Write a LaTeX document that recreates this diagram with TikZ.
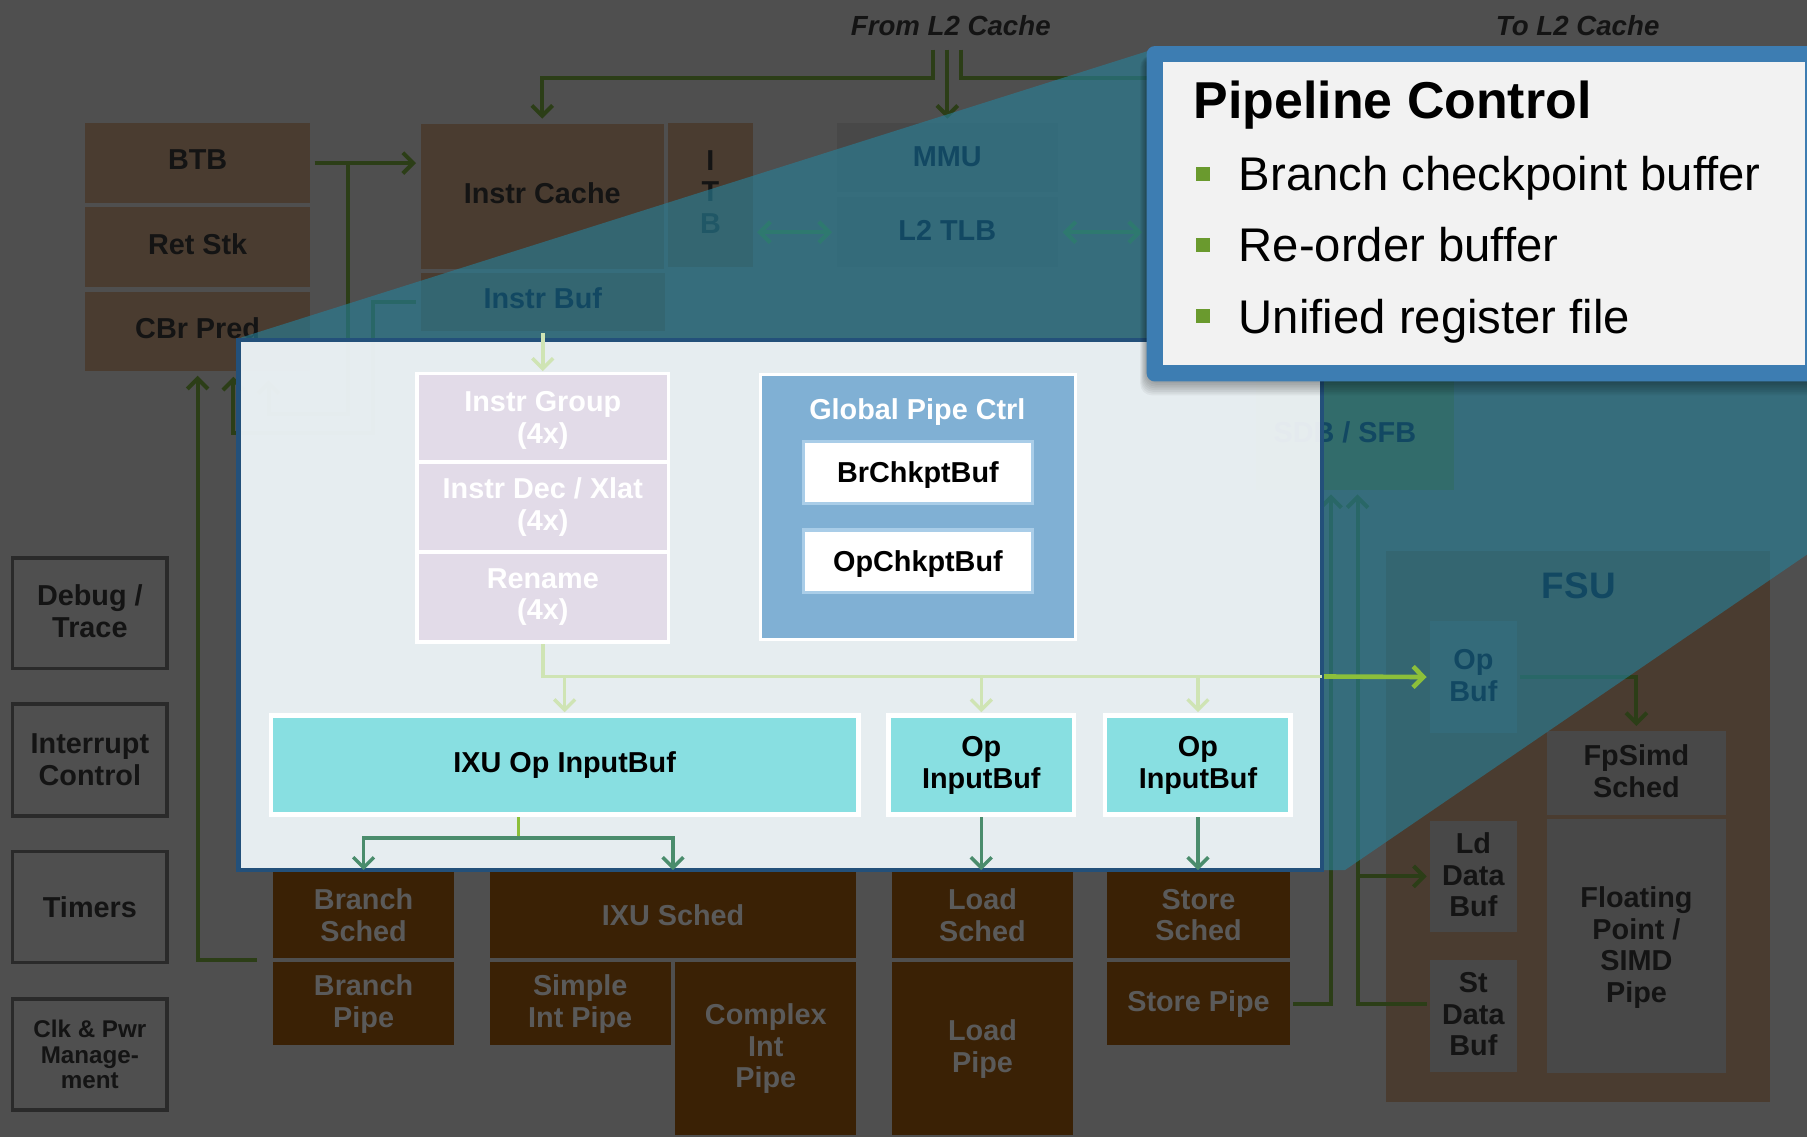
\documentclass[tikz,border=0pt]{standalone}
\usepackage{fontspec}
\setmainfont{Liberation Sans}
\usetikzlibrary{arrows.meta}
\definecolor{bgc}{HTML}{4F4F4F}
\definecolor{brownA}{HTML}{4A3C30}
\definecolor{brownB}{HTML}{3A2105}
\definecolor{dimtxt}{HTML}{5A5A5A}
\definecolor{grayB}{HTML}{484848}
\definecolor{sdbc}{HTML}{434A22}
\definecolor{dkg}{HTML}{2C3E17}
\definecolor{midg}{HTML}{3A6E2C}
\definecolor{dktxt}{HTML}{141414}
\definecolor{ovtxt}{HTML}{124862}
\definecolor{sideb}{HTML}{2A2A2A}
\definecolor{tealov}{HTML}{288199}
\definecolor{panelf}{HTML}{F6F8FA}
\definecolor{panelb}{HTML}{23507A}
\definecolor{lavc}{HTML}{E2DBE8}
\definecolor{cyanc}{HTML}{88DFE1}
\definecolor{gpcc}{HTML}{80B0D4}
\definecolor{chkb}{HTML}{A9CDE8}
\definecolor{ltg}{HTML}{CFE4B4}
\definecolor{brg}{HTML}{8CBF3A}
\definecolor{tealar}{HTML}{4A8C6C}
\definecolor{calb}{HTML}{3D7DB2}
\definecolor{calf}{HTML}{F2F2F2}
\definecolor{bulc}{HTML}{6A9A2E}
% box given by its corners: name, x1, y1, x2, y2, style, text
\newcommand{\boxat}[7]{\node[#6, minimum width={(#4-#2)*1pt}, minimum height={(#5-#3)*1pt}] (#1) at ({(#2+#4)/2},{(#3+#5)/2}) {#7};}
\begin{document}
\begin{tikzpicture}[x=1pt,y=-1pt,
  every node/.style={inner sep=0pt, outer sep=0pt},
  f25/.style={font=\fontsize{25}{27.5}\selectfont\bfseries, align=center},
  upbox/.style={fill=brownA, text=dktxt, f25, text depth=6pt},
  lowbox/.style={fill=brownB, text=dimtxt, f25},
  graybox/.style={fill=grayB, text=dktxt, f25, text depth=3pt},
  tinted/.style={text=ovtxt, f25},
  sidebox/.style={draw=sideb, line width=3pt, text=dktxt, f25},
  lavbox/.style={fill=lavc, draw=white, line width=3pt, text=white, f25},
  cyanbox/.style={fill=cyanc, draw=white, line width=4pt, text=black, f25},
  chkbox/.style={fill=white, draw=chkb, line width=3pt, text=black, f25, text depth=0pt},
  dkline/.style={draw=dkg, line width=3.5pt},
  midline/.style={draw=midg, line width=3.5pt},
  ltline/.style={draw=ltg, line width=3pt},
  brline/.style={draw=brg, line width=4pt},
  tlline/.style={draw=tealar, line width=3pt},
  tipend/.style={-{Straight Barb[length=9pt,width=18pt]}},
  tipboth/.style={{Straight Barb[length=9pt,width=18pt]}-{Straight Barb[length=9pt,width=18pt]}},
]
\useasboundingbox (0,0) rectangle (1568,987);
\fill[bgc] (0,0) rectangle (1568,987);

% ---- cache labels
\node[anchor=base, text=dktxt, font=\fontsize{24}{26}\selectfont\bfseries\itshape] (froml2) at (825,31) {From L2 Cache};
\node[anchor=base, text=dktxt, font=\fontsize{24}{26}\selectfont\bfseries\itshape] (tol2) at (1369,31) {To L2 Cache};

% ---- front end
\boxat{btb}{74}{107}{269}{176}{upbox}{BTB}
\boxat{retstk}{74}{180}{269}{249}{upbox}{Ret Stk}
\boxat{cbr}{74}{253}{269}{322}{upbox}{CBr Pred}
\boxat{icache}{365}{108}{576}{233}{upbox}{Instr Cache}
\boxat{itb}{580}{107}{653}{232}{upbox}{I\\T\\B}
\boxat{ibuf}{365}{237}{577}{287}{upbox}{}
\boxat{mmu}{726}{107}{918}{167}{graybox}{}
\boxat{l2tlb}{726}{171}{918}{232}{graybox}{}
\boxat{sdb}{1090}{325}{1262}{425}{fill=sdbc}{}

% ---- floating point / SIMD unit
\boxat{fsu}{1203}{478}{1536}{956}{upbox}{}
\boxat{opbuf}{1241}{539}{1316}{636}{graybox}{}
\boxat{fpsched}{1342}{634}{1498}{707}{graybox}{FpSimd\\Sched}
\boxat{fppipe}{1342}{711}{1498}{931}{graybox}{Floating\\Point /\\SIMD\\Pipe}
\boxat{lddb}{1241}{712}{1316}{809}{graybox}{Ld\\Data\\Buf}
\boxat{stdb}{1241}{833}{1316}{930}{graybox}{St\\Data\\Buf}

% ---- system blocks
\boxat{dbg}{11}{484}{145}{580}{sidebox, text depth=4pt}{Debug /\\Trace}
\boxat{intc}{11}{611}{145}{708}{sidebox}{Interrupt\\Control}
\boxat{tmr}{11}{739}{145}{835}{sidebox}{Timers}
\boxat{clk}{11}{867}{145}{963}{sidebox, font=\fontsize{21}{22}\selectfont\bfseries}{Clk \& Pwr\\Manage-\\ment}

% ---- schedulers and pipes
\boxat{bsched}{237}{757}{394}{831}{lowbox}{Branch\\Sched}
\boxat{bpipe}{237}{835}{394}{907}{lowbox}{Branch\\Pipe}
\boxat{ixsched}{425}{757}{743}{831}{lowbox}{IXU Sched}
\boxat{sipipe}{425}{835}{582}{907}{lowbox}{Simple\\Int Pipe}
\boxat{cipipe}{586}{835}{743}{985}{lowbox}{Complex\\Int\\Pipe}
\boxat{ldsched}{774}{757}{931}{831}{lowbox}{Load\\Sched}
\boxat{ldpipe}{774}{835}{931}{985}{lowbox}{Load\\Pipe}
\boxat{stsched}{961}{757}{1119}{831}{lowbox}{Store\\Sched}
\boxat{stpipe}{961}{835}{1119}{907}{lowbox}{Store Pipe}

% ---- back-layer connectors
\coordinate (l2top) at (0,43);
\coordinate (l2row) at (0,68);
\coordinate (l2a) at (810,43);
\coordinate (l2c) at (834,43);
\coordinate (l2right) at (996,68);
\draw[dkline, tipend, shorten >=5pt] (l2a) |- (icache.north |- l2row) -- (icache.north);
\draw[dkline, tipend, shorten >=4pt] (mmu.north |- l2top) -- (mmu.north);
\draw[dkline] (l2c) |- (l2right);

\coordinate (jb) at (302,141.5);
\draw[dkline, tipend, shorten <=4pt, shorten >=4pt] (btb.east) -- (btb.east -| icache.west);
\draw[dkline, tipend] (jb) -- (302,359) -| ([xshift=61.5pt, yshift=-8pt]cbr.south);
\draw[dkline, tipend, shorten <=4pt] (ibuf.west) -- (324,262) -- (324,376) -| ([xshift=31pt, yshift=-5pt]cbr.south);
\draw[dkline, tipend] ([xshift=-14pt, yshift=-2pt]bsched.south west) -| ([yshift=-4pt]cbr.south);

\coordinate (tlbR) at (991,201.5);
\draw[midline, tipboth, shorten <=4pt, shorten >=4pt] (itb.east |- l2tlb.west) -- (l2tlb.west);
\draw[midline, tipboth, shorten <=4pt] (l2tlb.east) -- (tlbR);

\coordinate (sv) at (1178,871);
\draw[dkline, tipend, shorten <=3pt] (stpipe.east) -| ([xshift=-21pt, yshift=-4pt]sdb.south);
\draw[dkline, tipend, shorten <=3pt] ([yshift=10.5pt]stdb.west) -| ([xshift=2pt, yshift=-4pt]sdb.south);
\draw[dkline, tipend, shorten >=3pt] (sv |- lddb.west) -- (lddb.west);
\draw[dkline, tipend, shorten <=3pt, shorten >=4pt] (opbuf.east) -| (fpsched.north);

% ---- highlight wedge joining the panel and the callout
\fill[tealov, opacity=0.62] (209,293) -- (997,44) -- (1580,44) -- (1580,473) -- (1167,755) -- (209,755) -- cycle;

% ---- labels of the blocks lying inside the wedge
\node[tinted, text depth=6pt] (ibuft) at (ibuf.center) {Instr Buf};
\node[tinted, text depth=3pt] (mmut) at (mmu.center) {MMU};
\node[tinted, text depth=3pt] (l2tlbt) at (l2tlb.center) {L2 TLB};
\node[tinted] (sdbt) at (1167,375) {SDB / SFB};
\node[tinted, font=\fontsize{32}{34}\selectfont\bfseries] (fsut) at (1370,508) {FSU};
\node[tinted, text depth=3pt] (opbuft) at (opbuf.center) {Op\\Buf};

% ---- pipeline control panel
\boxat{panel}{207}{295}{1147}{755}{draw=panelb, line width=4pt, fill=panelf, fill opacity=0.92}{}

\boxat{igrp}{362}{324}{580}{401}{lavbox, text depth=0pt}{Instr Group\\(4x)}
\boxat{idec}{362}{401}{580}{479}{lavbox}{Instr Dec / Xlat\\(4x)}
\boxat{ren}{362}{479}{580}{557}{lavbox}{Rename\\(4x)}

\boxat{gpc}{660}{325}{933}{555}{fill=gpcc, draw=white, line width=2.5pt}{}
\node[f25, text=white, text depth=0pt] (gpct) at (796,355) {Global Pipe Ctrl};
\boxat{brck}{697}{383}{896}{437}{chkbox}{BrChkptBuf}
\boxat{opck}{697}{460}{896}{514}{chkbox}{OpChkptBuf}

\boxat{ixbuf}{235}{621}{745}{707}{cyanbox}{IXU Op InputBuf}
\boxat{opbA}{771}{621}{932}{707}{cyanbox}{Op\\InputBuf}
\boxat{opbB}{959}{621}{1120}{707}{cyanbox}{Op\\InputBuf}

% ---- panel connectors
\coordinate (busrow) at (0,587);
\coordinate (ixrow) at (0,727);
\draw[ltline, tipend, shorten <=2pt, shorten >=2pt] (ibuf.south) -- (igrp.north);
\draw[ltline, shorten <=2pt] (ren.south) |- (panel.east |- busrow);
\draw[ltline, tipend, shorten >=3pt] (ixbuf.north |- busrow) -- (ixbuf.north);
\draw[ltline, tipend, shorten >=3pt] (opbA.north |- busrow) -- (opbA.north);
\draw[ltline, tipend, shorten >=3pt] (opbB.north |- busrow) -- (opbB.north);
\draw[brline, tipend, shorten <=2pt, shorten >=3pt] (panel.east |- busrow) -- (opbuf.west);

\draw[brline, line width=3pt, shorten <=2pt] ([xshift=-40pt]ixbuf.south) -- ([xshift=-40pt]ixbuf.south |- ixrow);
\draw[tlline, tipend, shorten >=2pt] ([xshift=-40pt]ixbuf.south |- ixrow) -| (bsched.north);
\draw[tlline, tipend, shorten >=2pt] ([xshift=-40pt]ixbuf.south |- ixrow) -| (ixsched.north);
\draw[tlline, tipend, shorten <=2pt, shorten >=2pt] (opbA.south) -- (opbA.south |- ldsched.north);
\draw[tlline, tipend, shorten <=2pt, shorten >=2pt] (opbB.south) -- (opbB.south |- stsched.north);

% ---- callout with soft shadow
\foreach \k in {1,...,8}
  \fill[black, opacity=0.045, rounded corners=10pt] (995-0.7*\k,48) rectangle (1580,331+1.5*\k);
\fill[calb, rounded corners=7pt] (995,40) rectangle (1590,331);
\boxat{callout}{1009}{54}{1566}{317}{fill=calf}{}
\node[anchor=base west, text=black, font=\fontsize{45}{50}\selectfont\bfseries] (ctitle) at (1036,103) {Pipeline Control};
\node[fill=bulc, minimum size=12pt] (bul1) at (1044,151) {};
\node[fill=bulc, minimum size=12pt] (bul2) at (1044,212.5) {};
\node[fill=bulc, minimum size=12pt] (bul3) at (1044,274) {};
\node[anchor=base west, text=black, font=\fontsize{41}{45}\selectfont] (it1) at (1075,165.5) {Branch checkpoint buffer};
\node[anchor=base west, text=black, font=\fontsize{41}{45}\selectfont] (it2) at (1075,227) {Re-order buffer};
\node[anchor=base west, text=black, font=\fontsize{41}{45}\selectfont] (it3) at (1075,289) {Unified register file};
\end{tikzpicture}
\end{document}
